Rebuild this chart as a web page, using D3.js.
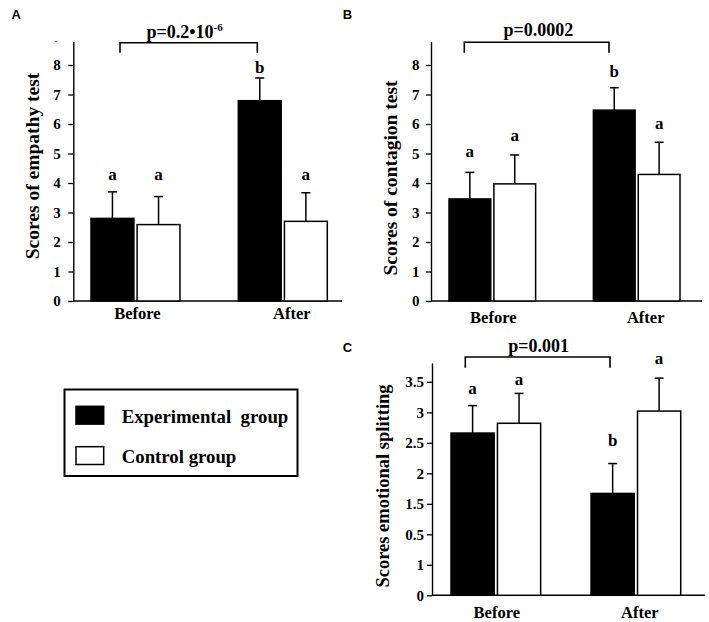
<!DOCTYPE html>
<html lang="en">
<head>
<meta charset="UTF-8">
<title>Empathy scores</title>
<script src="https://cdn.jsdelivr.net/npm/d3@7"></script>
<style>
  body { margin: 0; background: #fff; }
  svg text { font-family: "Liberation Serif", "Times New Roman", serif; font-weight: bold; fill: #000; }
  .panel-letter { font-family: "Liberation Sans", Arial, sans-serif; font-size: 13px; }
</style>
</head>
<body>
<script>
// data
var groups = ["Before", "After"];
var series = ["Experimental  group", "Control group"];

// A: empathy test
var empathyExp = [2.80, 6.79];
var empathyExpErr = [0.90, 0.77];
var empathyCtl = [2.59, 2.70];
var empathyCtlErr = [0.95, 0.97];
var empathyLetters = [["a", "b"], ["a", "a"]];
var empathyLetterAt = [[4.10, 7.72], [4.10, 4.10]];

// B: contagion test
var contagionExp = [3.46, 6.47];
var contagionExpErr = [0.90, 0.76];
var contagionCtl = [3.97, 4.29];
var contagionCtlErr = [0.98, 1.09];
var contagionLetters = [["a", "b"], ["a", "a"]];
var contagionLetterAt = [[4.89, 7.58], [5.42, 5.84]];

// C: emotional splitting
var splittingExp = [2.66, 1.67];
var splittingExpErr = [0.45, 0.49];
var splittingCtl = [2.82, 3.02];
var splittingCtlErr = [0.49, 0.54];
var splittingLetters = [["a", "b"], ["a", "a"]];
var splittingLetterAt = [[3.30, 2.44], [3.44, 3.80]];

var ticks8 = [0, 1, 2, 3, 4, 5, 6, 7, 8];
var ticks8Labels = ["0", "1", "2", "3", "4", "5", "6", "7", "8"];
var ticksC = [0, 0.5, 1, 1.5, 2, 2.5, 3, 3.5];
var ticksCLabels = ["0", "1", "0.5", "1.5", "2", "2.5", "3", "3.5"];

var svg = d3.select("body").append("svg").attr("width", 709).attr("height", 622);

function drawPanel(p) {
    var g = svg.append("g");

    var y = d3.scaleLinear().domain([0, p.yMax]).range([p.y0, p.yTop]);
    var x0 = d3.scaleBand().domain(groups).range(p.barRange).paddingInner(p.groupPad).paddingOuter(0);
    var x1 = d3.scaleBand().domain(series).range([0, x0.bandwidth()]).paddingInner(0.07);

    // y axis
    var yAxis = d3.axisLeft(y).tickValues(p.ticks)
        .tickFormat(function (d, i) { return p.tickLabels[i]; })
        .tickSize(5).tickSizeOuter(0).tickPadding(p.tickPad);
    var ya = g.append("g").attr("transform", "translate(" + p.axisX + ",0)").call(yAxis);
    ya.select(".domain").attr("stroke-width", 1.4);
    ya.selectAll(".tick line").attr("stroke-width", 1.3);
    ya.selectAll(".tick text").attr("font-size", 15).attr("font-family", null);

    // x axis baseline
    g.append("line").attr("x1", p.axisX).attr("x2", p.axisEnd)
        .attr("y1", y(0)).attr("y2", y(0)).attr("stroke", "#000").attr("stroke-width", 1.4);

    var rows = [];
    groups.forEach(function (grp, gi) {
        rows.push({ grp: grp, s: series[0], v: p.exp[gi], e: p.expErr[gi], fill: "#000", l: p.letters[0][gi], la: p.letterAt[0][gi] });
        rows.push({ grp: grp, s: series[1], v: p.ctl[gi], e: p.ctlErr[gi], fill: "#fff", l: p.letters[1][gi], la: p.letterAt[1][gi] });
    });
    function cx(d) { return x0(d.grp) + x1(d.s) + x1.bandwidth() / 2; }

    // error bars (upper only)
    g.selectAll(".err").data(rows).enter().append("line")
        .attr("x1", cx).attr("x2", cx)
        .attr("y1", function (d) { return y(d.v); })
        .attr("y2", function (d) { return y(d.v + d.e); })
        .attr("stroke", "#000").attr("stroke-width", 1.5);
    g.selectAll(".cap").data(rows).enter().append("line")
        .attr("x1", function (d) { return cx(d) - 4.5; })
        .attr("x2", function (d) { return cx(d) + 4.5; })
        .attr("y1", function (d) { return y(d.v + d.e); })
        .attr("y2", function (d) { return y(d.v + d.e); })
        .attr("stroke", "#000").attr("stroke-width", 1.5);

    // bars
    g.selectAll(".bar").data(rows).enter().append("rect")
        .attr("x", function (d) { return x0(d.grp) + x1(d.s); })
        .attr("y", function (d) { return y(d.v); })
        .attr("width", x1.bandwidth())
        .attr("height", function (d) { return y(0) - y(d.v); })
        .attr("fill", function (d) { return d.fill; })
        .attr("stroke", "#000").attr("stroke-width", 1.5);

    // significance letters
    g.selectAll(".sig").data(rows).enter().append("text")
        .attr("x", cx).attr("y", function (d) { return y(d.la); })
        .attr("text-anchor", "middle").attr("font-size", 17)
        .text(function (d) { return d.l; });

    // group labels
    groups.forEach(function (grp, gi) {
        g.append("text")
            .attr("x", x0(grp) + x0.bandwidth() / 2 + p.labelShift[gi])
            .attr("y", p.labelY).attr("text-anchor", "middle").attr("font-size", 16.5)
            .text(grp);
    });

    // y title
    g.append("text")
        .attr("transform", "translate(" + p.titleX + "," + p.titleY + ") rotate(-90)")
        .attr("text-anchor", "middle").attr("font-size", p.titleSize)
        .text(p.title);

    // bracket with p-value
    var bx1 = p.bracket[0], bx2 = p.bracket[1], bt = p.bracket[2], bb = p.bracket[3];
    g.append("path")
        .attr("d", "M" + bx1 + "," + bb + "V" + bt + "H" + bx2 + "V" + bb)
        .attr("fill", "none").attr("stroke", "#000").attr("stroke-width", 1.6);
    var pt = g.append("text").attr("x", (bx1 + bx2) / 2 + p.pShift).attr("y", p.pY)
        .attr("text-anchor", "middle").attr("font-size", 18);
    pt.append("tspan").text(p.pText);
    if (p.pSup) {
        pt.append("tspan").attr("font-size", 11).attr("dy", -7).text(p.pSup);
    }

    g.append("text").attr("class", "panel-letter").attr("x", p.letterPos[0]).attr("y", p.letterPos[1]).text(p.letter);

    if (p.stray) {
        g.append("text").attr("x", p.stray[0]).attr("y", y(p.stray[1])).attr("font-size", 9)
            .style("fill", "#555").text("-");
    }
}

drawPanel({
    letter: "A", letterPos: [11.5, 19.3],
    exp: empathyExp, expErr: empathyExpErr, ctl: empathyCtl, ctlErr: empathyCtlErr,
    letters: empathyLetters, letterAt: empathyLetterAt,
    ticks: ticks8, tickLabels: ticks8Labels, tickPad: 7.5,
    yMax: 8.8, y0: 301, yTop: 41.4,
    axisX: 73.3, axisEnd: 342, barRange: [91, 327.3], groupPad: 0.396,
    labelY: 319, labelShift: [2, 9],
    title: "Scores of empathy test", titleX: 39, titleY: 166, titleSize: 19.5,
    bracket: [120, 257.3, 42.7, 52.7], pText: "p=0.2•10", pSup: "-6", pShift: -4, pY: 37.5,
    stray: [54.5, 8.7]
});

drawPanel({
    letter: "B", letterPos: [342.7, 19.3],
    exp: contagionExp, expErr: contagionExpErr, ctl: contagionCtl, ctlErr: contagionCtlErr,
    letters: contagionLetters, letterAt: contagionLetterAt,
    ticks: ticks8, tickLabels: ticks8Labels, tickPad: 6.5,
    yMax: 8.8, y0: 301, yTop: 41.4,
    axisX: 431, axisEnd: 702, barRange: [449, 680], groupPad: 0.40,
    labelY: 322.7, labelShift: [1, 9],
    title: "Scores of contagion test", titleX: 396.5, titleY: 178, titleSize: 19.5,
    bracket: [464.3, 609, 42.3, 52.7], pText: "p=0.0002", pSup: null, pShift: 1.7, pY: 36
});

drawPanel({
    letter: "C", letterPos: [342.7, 352],
    exp: splittingExp, expErr: splittingExpErr, ctl: splittingCtl, ctlErr: splittingCtlErr,
    letters: splittingLetters, letterAt: splittingLetterAt,
    ticks: ticksC, tickLabels: ticksCLabels, tickPad: 3,
    yMax: 3.81, y0: 595.3, yTop: 362.9,
    axisX: 432, axisEnd: 705, barRange: [451, 680.7], groupPad: 0.36,
    labelY: 618, labelShift: [1, 4],
    title: "Scores emotional splitting", titleX: 389, titleY: 486, titleSize: 18.5,
    bracket: [465.3, 610, 357, 367.7], pText: "p=0.001", pSup: null, pShift: 1, pY: 352
});

// legend
var legend = svg.append("g");
legend.append("rect").attr("x", 64.5).attr("y", 389.5).attr("width", 233).attr("height", 86.5)
    .attr("fill", "none").attr("stroke", "#000").attr("stroke-width", 2);
var legendFill = ["#000", "#fff"];
var legendY = [406.3, 446.7];
series.forEach(function (s, i) {
    legend.append("rect").attr("x", 76).attr("y", legendY[i]).attr("width", 27.7).attr("height", 17.8)
        .attr("fill", legendFill[i]).attr("stroke", "#000").attr("stroke-width", 1.5);
    legend.append("text").attr("x", 121.7).attr("y", legendY[i] + 16.5)
        .attr("font-size", 18.8).style("white-space", "pre").text(s);
});
</script>
</body>
</html>
